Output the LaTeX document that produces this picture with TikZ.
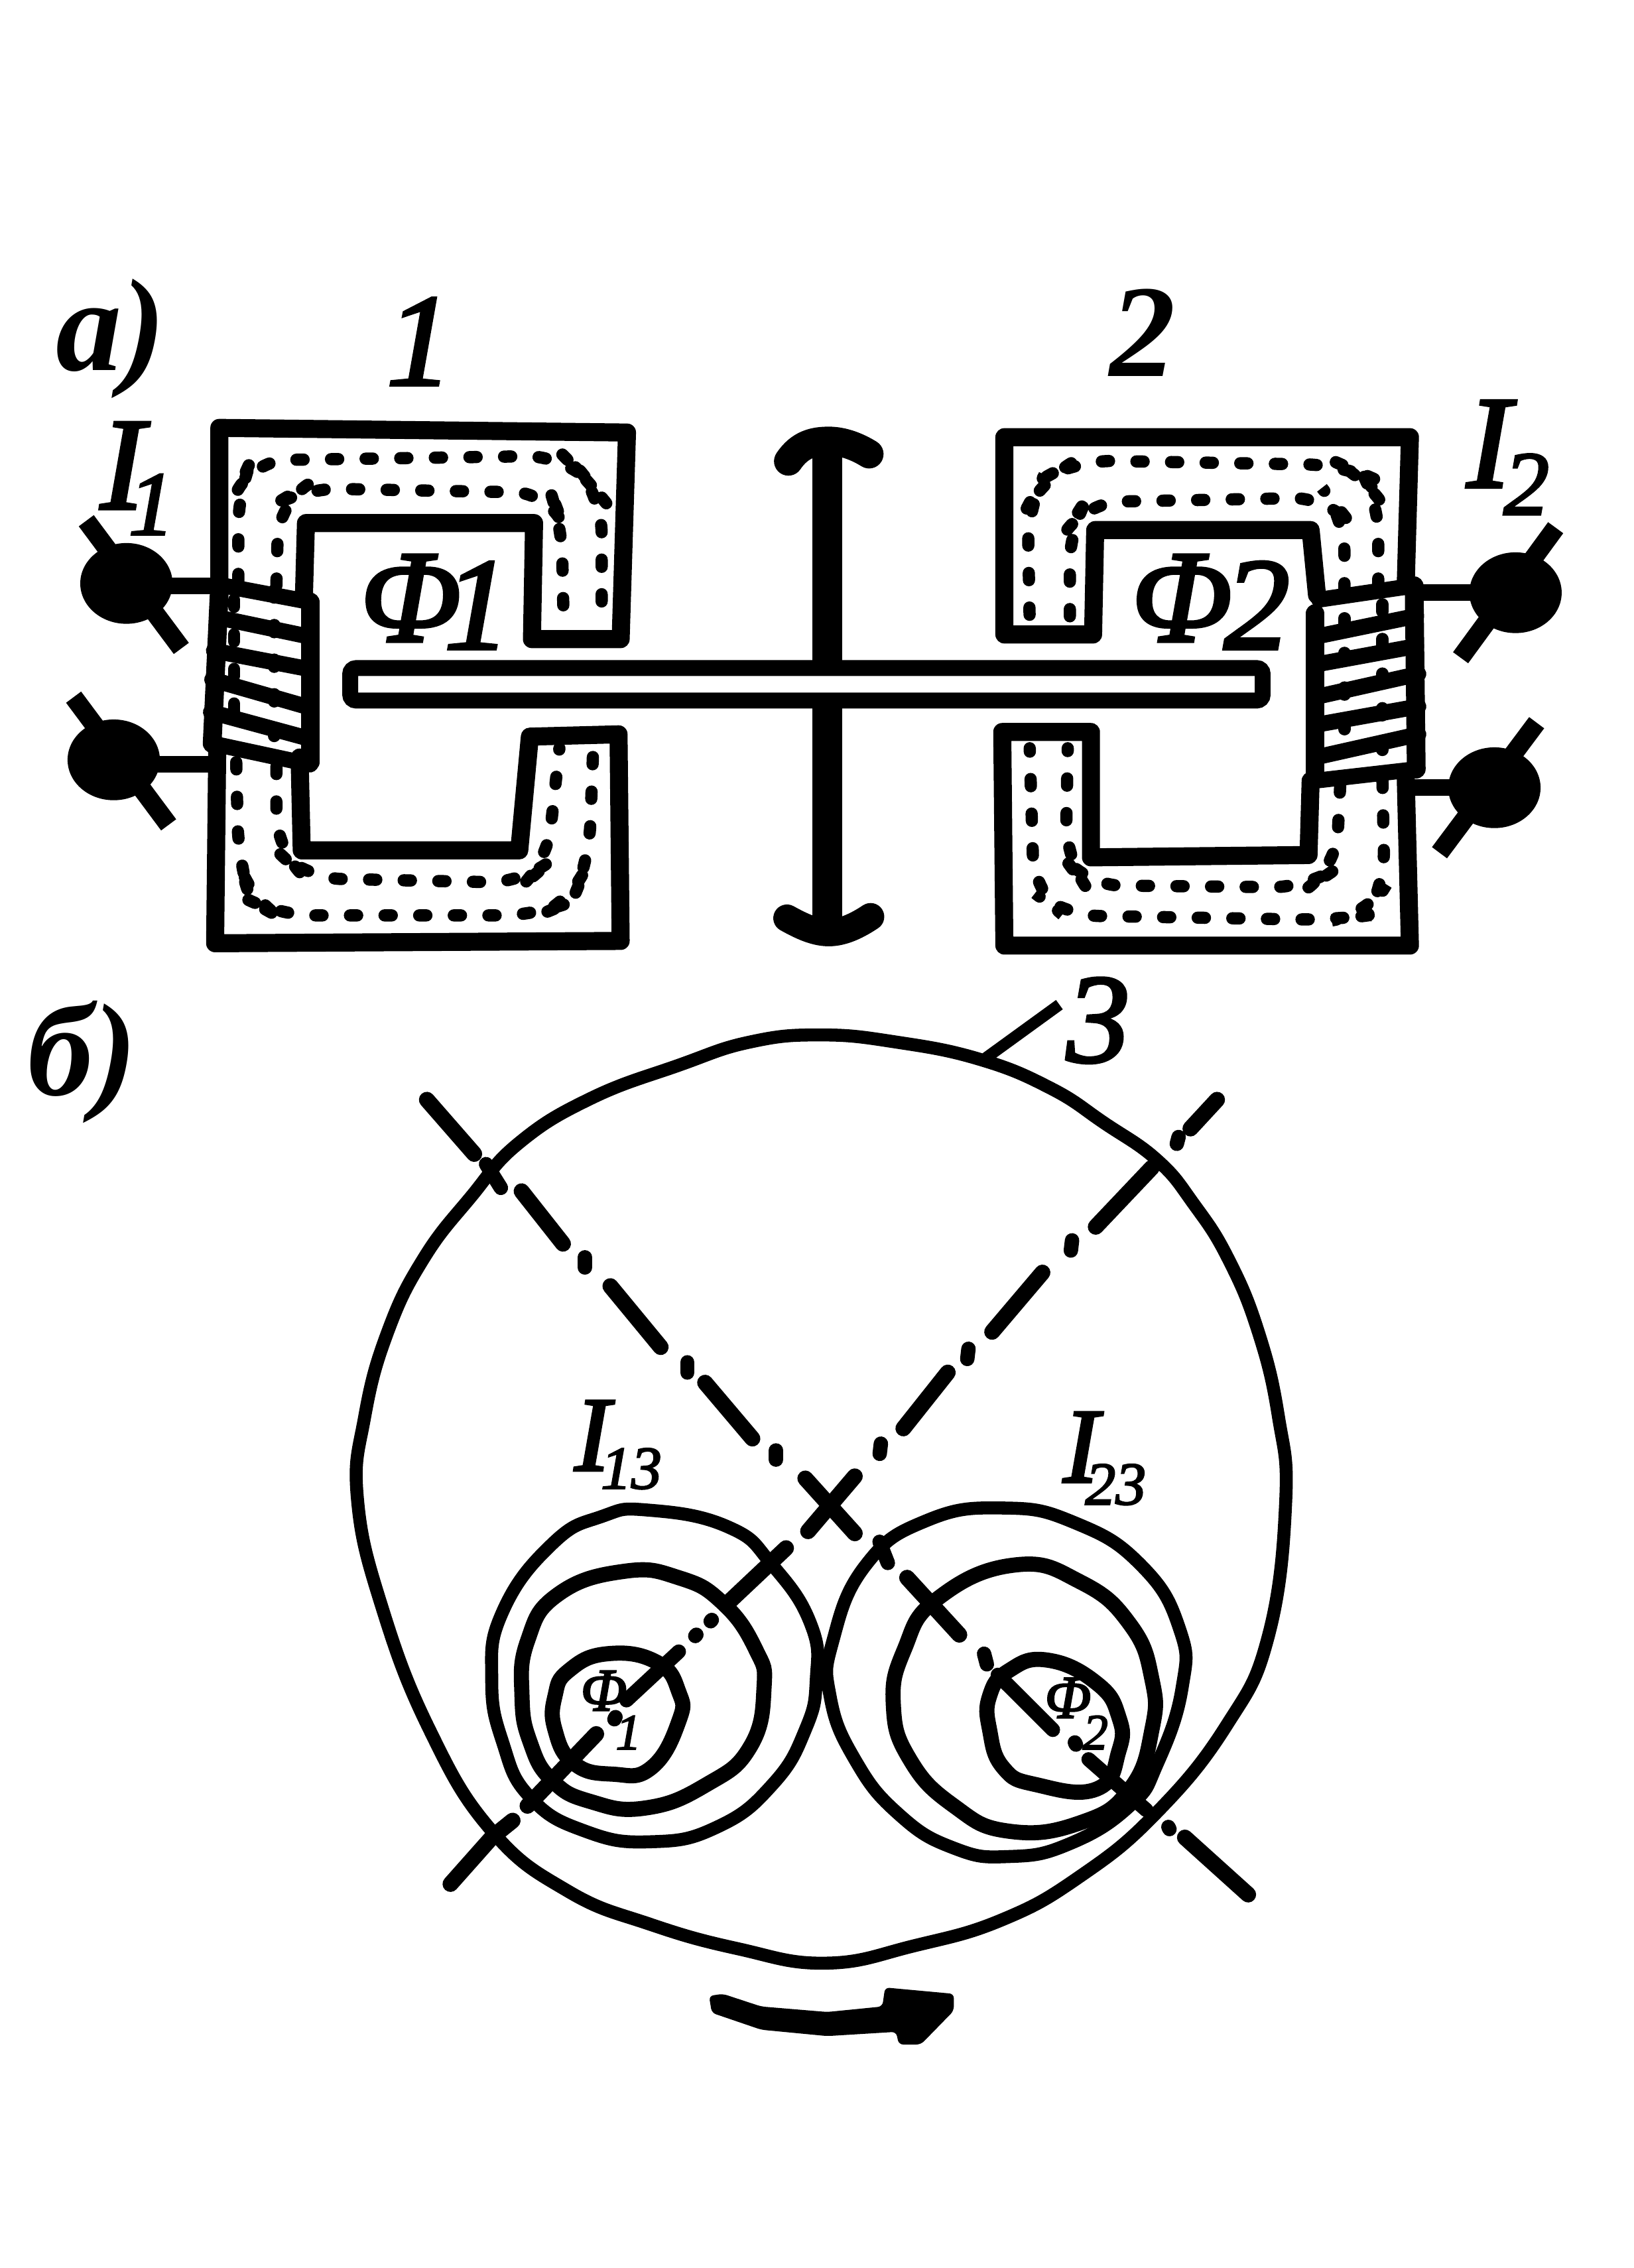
\documentclass[tikz,border=0pt]{standalone}
\usepackage{fontspec}
\setmainfont{Liberation Serif}[ItalicFeatures={FakeBold=2.5}]
\newcommand{\fsz}[1]{\fontsize{#1}{#1}\selectfont\itshape}
\newcommand{\fbz}[1]{\fontsize{#1}{#1}\selectfont\bfseries\itshape}
\tikzset{
 main/.style={x=.01cm,y=-.01cm},
 zone/.style={x=.00293cm,y=-.003225cm,shift={(.276cm,-1.84cm)}},
 ztwo/.style={x=.00293cm,y=-.003225cm,shift={(6.437cm,-1.84cm)}},
 zthree/.style={x=.00381cm,y=-.002932cm,shift={(2.99cm,-9.885cm)}},
 zfour/.style={x=.004105cm,y=-.002346cm,shift={(2.529cm,-6.897cm)}},
 core/.style={line width=.125cm,line join=round,line cap=round},
 band/.style={line width=.11cm,line cap=round},
 edgeb/.style={line width=.13cm,line cap=round},
 flux/.style={line width=.085cm,line cap=round,dash pattern=on .05cm off .19cm,rounded corners=.25cm},
 slash/.style={line width=.13cm},
 wire/.style={line width=.115cm},
 ring/.style={line width=.09cm,line cap=round},
 ringm/.style={line width=.105cm,line cap=round},
 axis/.style={line width=.11cm,line cap=round},
 dotm/.style={line width=.1cm,line cap=round},
 lab/.style={inner sep=0pt,anchor=center},
}
\begin{document}
\begin{tikzpicture}
\useasboundingbox (0,0) rectangle (11.33cm,-15.726cm);
\fill[white] (0,0) rectangle (11.33cm,-15.726cm);

% --- left core
\begin{scope}[zone]
 \draw[core] (425,690)--(425,350)--(1390,360)--(1375,805)--(1165,805)--(1170,555)--(630,555)--(625,720);
 \draw[core] (420,1040)--(415,1460)--(1375,1455)--(1370,1010)--(1160,1015)--(1135,1260)--(620,1260)--(615,1060);
 \draw[flux] (470,680)--(470,480)--(500,420)--(1240,410)--(1290,455)--(1330,500)--(1330,770);
 \draw[flux] (560,690)--(565,510)--(620,480)--(1210,490)--(1235,550)--(1240,770);
 \draw[flux] (465,1070)--(470,1280)--(500,1370)--(560,1400)--(1180,1400)--(1260,1370)--(1300,1280)--(1310,1040);
 \draw[flux] (560,1080)--(560,1260)--(630,1320)--(1150,1330)--(1200,1290)--(1230,1040);
 \draw[flux] (460,720)--(460,1000);
 \draw[flux] (555,700)--(555,1040);
 \draw[band] (425,688)--(640,725);
 \draw[band] (420,758)--(640,800);
 \draw[band] (412,830)--(640,870);
 \draw[band] (408,892)--(630,950);
 \draw[band] (405,962)--(640,1020);
 \draw[band] (410,1030)--(640,1075);
 \draw[edgeb] (425,700)--(408,1030);
 \draw[edgeb] (640,725)--(640,1070);
 \draw[wire] (300,690)--(420,690);
 \draw[wire] (270,1075)--(405,1075);
 \draw[slash] (110,550)--(335,825);
 \draw[slash] (80,930)--(305,1205);
 \fill (205,685) ellipse [x radius=.32cm,y radius=.28cm];
 \fill (175,1065) ellipse [x radius=.32cm,y radius=.28cm];
\end{scope}

% --- right core
\begin{scope}[ztwo]
 \draw[core] (1130,690)--(1140,370)--(180,370)--(180,795)--(390,795)--(395,570)--(905,570)--(920,710);
 \draw[core] (1130,1100)--(1140,1465)--(180,1465)--(175,1005)--(385,1005)--(385,1275)--(900,1270)--(905,1110);
 \draw[flux] (1065,690)--(1065,500)--(1030,450)--(980,430)--(350,420)--(270,460)--(235,520)--(240,770);
 \draw[flux] (985,700)--(985,540)--(950,500)--(370,510)--(335,560)--(335,770);
 \draw[flux] (1075,1110)--(1080,1340)--(1040,1400)--(960,1410)--(320,1400)--(250,1350)--(240,1040);
 \draw[flux] (975,1120)--(965,1300)--(900,1340)--(370,1335)--(325,1280)--(330,1040);
 \draw[flux] (985,760)--(985,1040);
 \draw[flux] (1075,730)--(1075,1050);
 \draw[band] (925,720)--(1150,690);
 \draw[band] (915,800)--(1155,755);
 \draw[band] (915,860)--(1155,820);
 \draw[band] (915,930)--(1160,880);
 \draw[band] (915,990)--(1160,950);
 \draw[band] (915,1060)--(1160,1010);
 \draw[band] (915,1110)--(1155,1085);
 \draw[edgeb] (915,750)--(915,1100);
 \draw[edgeb] (1150,690)--(1155,1085);
 \draw[wire] (1150,705)--(1300,705);
 \draw[wire] (1140,1125)--(1250,1125);
 \draw[slash] (1485,565)--(1260,845);
 \draw[slash] (1440,985)--(1210,1265);
 \fill (1390,705) ellipse [x radius=.32cm,y radius=.28cm];
 \fill (1340,1125) ellipse [x radius=.32cm,y radius=.28cm];
\end{scope}

% --- rotor
\begin{scope}[main]
 \draw[line width=.21cm] (574,310)--(574,645);
 \draw[line width=.2cm,line cap=round] (547,320) .. controls (555,308) and (565,306) .. (575,306) .. controls (585,306) and (595,310) .. (603,315);
 \draw[line width=.19cm,line cap=round] (546,637) .. controls (555,642) and (565,647) .. (575,647) .. controls (585,647) and (595,642) .. (604,636);
 \draw[line width=.11cm,fill=white,rounded corners=.04cm] (243,463.5) rectangle (876,486);

 % --- big loop
 \draw[ring] plot[smooth cycle,tension=.75] coordinates {(569,718)(622,723)(680,735)(729,755)(766,779)(803,805)(828,835)(852,873)(873,924)(887,983)(892,1042)(880,1135)(851,1197)(802,1258)(749,1302)(695,1332)(634,1350)(573,1362)(512,1352)(451,1335)(394,1312)(341,1270)(298,1200)(265,1115)(248,1040)(253,983)(269,924)(294,873)(327,830)(360,793)(410,762)(471,739)(520,723)};
 \draw[line width=.08cm] (684,734)--(735,697);
\end{scope}

% --- upper axes
\begin{scope}[zfour]
 \draw[axis] (105,310)--(185,470);
 \draw[dotm] (205,500)--(230,570);
 \draw[axis] (265,580)--(335,735);
 \draw[dotm] (372,775)--(372,805);
 \draw[axis] (415,860)--(500,1040);
 \draw[dotm] (545,1085)--(545,1115);
 \draw[axis] (575,1145)--(655,1310);
 \draw[dotm] (695,1345)--(695,1372);
 \draw[axis] (1440,310)--(1395,395);
 \draw[dotm] (1375,420)--(1372,440);
 \draw[axis] (1330,510)--(1235,685);
 \draw[dotm] (1195,725)--(1193,755);
 \draw[axis] (1145,820)--(1060,995);
 \draw[dotm] (1020,1045)--(1018,1075);
 \draw[axis] (985,1115)--(910,1280);
 \draw[dotm] (872,1325)--(870,1355);
\end{scope}

% --- small rings and lower axes
\begin{scope}[zthree]
 \draw[ring] plot[smooth cycle,tension=.8] coordinates {(395,200)(540,240)(620,330)(690,470)(700,600)(680,720)(620,850)(520,950)(400,985)(280,960)(180,880)(130,750)(110,600)(130,440)(220,280)(310,215)};
 \draw[ringm] plot[smooth cycle,tension=.8] coordinates {(350,345)(450,360)(530,420)(590,530)(605,620)(580,760)(500,850)(390,905)(290,890)(220,840)(180,750)(165,640)(175,510)(230,400)};
 \draw[ringm] plot[smooth cycle,tension=.8] coordinates {(320,540)(410,560)(450,630)(450,700)(400,810)(330,825)(260,800)(225,720)(225,640)(250,580)};
 \draw[ring] plot[smooth cycle,tension=.8] coordinates {(1040,195)(1170,230)(1290,330)(1360,480)(1365,620)(1320,800)(1270,900)(1160,990)(1050,1020)(950,1000)(850,920)(770,790)(725,640)(730,510)(790,330)(900,225)};
 \draw[ringm] plot[smooth cycle,tension=.8] coordinates {(1060,330)(1180,370)(1270,470)(1310,600)(1310,720)(1270,860)(1180,940)(1050,960)(950,900)(870,790)(840,660)(860,530)(920,410)};
 \draw[ringm] plot[smooth cycle,tension=.8] coordinates {(1120,555)(1210,610)(1250,690)(1250,770)(1210,860)(1100,850)(1040,810)(1015,720)(1015,640)(1050,580)};
 % axis from upper right to lower left
 \draw[axis] (645,290)--(535,425);
 \draw[dotm] (510,460)--(508,463);
 \draw[dotm] (482,495)--(480,498);
 \draw[dotm] (450,535)--(355,650);
 \draw[dotm] (335,690)--(333,695);
 \draw[axis] (300,730)--(175,900);
 \draw[axis] (148,935)--(110,975)--(35,1085);
 % axis from upper left to lower right
 \draw[axis] (680,125)--(770,255);
 \draw[axis] (770,120)--(685,250);
 \draw[dotm] (815,275)--(830,325);
 \draw[axis] (865,360)--(960,495);
 \draw[dotm] (1005,540)--(1010,565);
 \draw[dotm] (1030,590)--(1130,720);
 \draw[dotm] (1170,750)--(1172,755);
 \draw[dotm] (1195,790)--(1300,910);
 \draw[dotm] (1340,950)--(1342,955);
 \draw[axis] (1370,975)--(1485,1110);
 % rotation arrow
 \fill[rounded corners=.03cm] (505,1350)--(530,1345)--(600,1375)--(720,1388)--(820,1375)--(825,1330)--(950,1345)--(950,1385)--(890,1465)--(850,1465)--(845,1435)--(720,1445)--(600,1430)--(510,1390)--cycle;
\end{scope}

% --- labels
\begin{scope}[main]
 \node[lab] (la) at (77,235) {\fbz{26}а)};
 \node[lab] (lb) at (57,737) {\fbz{26}б)};
 \node[lab] (n1) at (291,237) {\fsz{26}1};
 \node[lab] (n2) at (793,231) {\fbz{26}2};
 \node[lab] (n3) at (762,708) {\fsz{25}3};
 \node[lab] (i1) at (85,323) {\fsz{26}I};
 \node[lab] (i1s) at (105,350) {\fsz{18}1};
 \node[lab] (i2) at (1033,308) {\fsz{26}I};
 \node[lab] (i2s) at (1059,336) {\fsz{18}2};
 \node[lab] (f1) at (285,415) {\fsz{26}Φ};
 \node[lab] (f1s) at (331,420) {\fsz{26}1};
 \node[lab] (f2) at (820,415) {\fsz{26}Φ};
 \node[lab] (f2s) at (872,420) {\fsz{26}2};
 \node[lab] (i13) at (411,996) {\fsz{21}I};
 \node[lab] (i13s) at (438,1019) {\fsz{12}13};
 \node[lab] (i23) at (750,1004) {\fsz{21}I};
 \node[lab] (i23s) at (774,1030) {\fsz{12}23};
 \node[lab] (p1) at (419,1173) {\fsz{12}Φ};
 \node[lab] (p1s) at (436,1202) {\fsz{10}1};
 \node[lab] (p2) at (741,1178) {\fsz{12}Φ};
 \node[lab] (p2s) at (760,1202) {\fsz{10}2};
\end{scope}
\end{tikzpicture}
\end{document}
